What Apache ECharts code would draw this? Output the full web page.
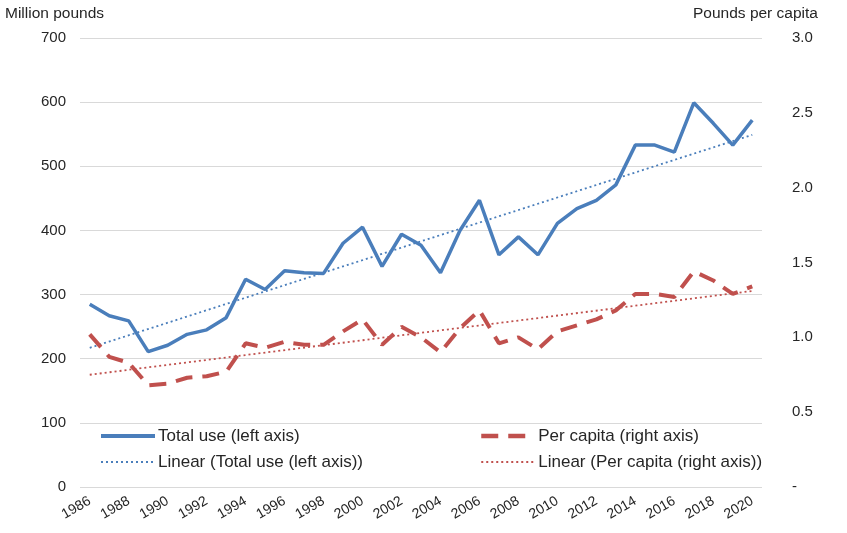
<!DOCTYPE html>
<html><head><meta charset="utf-8">
<script src="https://cdn.jsdelivr.net/npm/echarts@6/dist/echarts.min.js"></script>
<style>html,body{margin:0;padding:0;background:#fff}#c{width:847px;height:533px}</style>
</head><body><div id="c"></div>
<script>
const years = ['1986','1987','1988','1989','1990','1991','1992','1993','1994','1995','1996','1997','1998','1999','2000','2001','2002','2003','2004','2005','2006','2007','2008','2009','2010','2011','2012','2013','2014','2015','2016','2017','2018','2019','2020'];
const totalUse = [285,267,259,211,221,238,245,264,324,308,337,334,333,380,405,344,394,377,334,400,447,362,390,362,411,434,447,471,533,533,522,599,567,533,572];
const perCapita = [1.02,0.87,0.83,0.68,0.69,0.73,0.74,0.77,0.96,0.93,0.97,0.95,0.95,1.04,1.12,0.95,1.07,1.00,0.90,1.06,1.18,0.96,1.00,0.92,1.04,1.08,1.12,1.18,1.29,1.29,1.27,1.44,1.38,1.29,1.34];
const trendTotal = [['1986',217],['2020',549]];
const trendPerCapita = [['1986',0.75],['2020',1.31]];
const leftTicks = {min:0,max:700,interval:100};
const rightTicks = {min:0,max:3,interval:0.5};

const BLUE = '#4a7ebb', RED = '#c0504d', TXT = '#262626';
const FONT = '"Liberation Sans", Arial, sans-serif';
const legendCommon = {orient:'vertical',top:426,padding:0,itemWidth:54,itemHeight:12,itemGap:6,
  itemStyle:{opacity:0},
  textStyle:{fontSize:17,lineHeight:20,color:TXT,fontFamily:FONT,padding:[0,0,0,-2]}};
const chart = echarts.init(document.getElementById('c'));
chart.setOption({
  animation:false,
  textStyle:{fontFamily:FONT},
  grid:{left:80,right:85,top:38,bottom:46},
  graphic:[
    {type:'text',left:5,top:6,style:{text:'Million pounds',fontSize:15.5,fill:TXT,fontFamily:FONT}},
    {type:'text',left:693,top:6,style:{text:'Pounds per capita',fontSize:15.5,fill:TXT,fontFamily:FONT}}
  ],
  legend:[
    Object.assign({left:99,data:[
      {name:'Total use (left axis)',lineStyle:{width:4}},
      {name:'Linear (Total use (left axis))',lineStyle:{width:1.8}}]},legendCommon),
    Object.assign({left:479,data:[
      {name:'Per capita (right axis)',lineStyle:{width:4.5}},
      {name:'Linear (Per capita (right axis))',lineStyle:{width:1.8}}]},legendCommon)
  ],
  xAxis:{type:'category',data:years,boundaryGap:true,
    axisLine:{show:false},axisTick:{show:false},
    axisLabel:{interval:1,rotate:30,fontSize:14,color:TXT,margin:13,fontFamily:FONT}},
  yAxis:[
    {type:'value',min:leftTicks.min,max:leftTicks.max,interval:leftTicks.interval,
     axisLine:{show:false},axisTick:{show:false},
     axisLabel:{fontSize:15,color:TXT,margin:14,fontFamily:FONT},
     splitLine:{lineStyle:{color:'#d9d9d9',width:1}}},
    {type:'value',min:rightTicks.min,max:rightTicks.max,interval:rightTicks.interval,position:'right',
     axisLine:{show:false},axisTick:{show:false},splitLine:{show:false},
     axisLabel:{fontSize:15,color:TXT,margin:30,fontFamily:FONT,
       formatter:v=>v===0?'-':v.toFixed(1)}}
  ],
  series:[
    {name:'Total use (left axis)',type:'line',yAxisIndex:0,data:totalUse,symbol:'none',
     lineStyle:{color:BLUE,width:3.5},itemStyle:{color:BLUE},z:4},
    {name:'Per capita (right axis)',type:'line',yAxisIndex:1,data:perCapita,symbol:'none',
     lineStyle:{color:RED,width:4,type:[17,10]},itemStyle:{color:RED},z:3},
    {name:'Linear (Total use (left axis))',type:'line',yAxisIndex:0,data:trendTotal,symbol:'none',
     lineStyle:{color:BLUE,width:1.8,type:[2,3]},itemStyle:{color:BLUE},z:2},
    {name:'Linear (Per capita (right axis))',type:'line',yAxisIndex:1,data:trendPerCapita,symbol:'none',
     lineStyle:{color:RED,width:1.8,type:[2,3]},itemStyle:{color:RED},z:2}
  ]
});
</script></body></html>
